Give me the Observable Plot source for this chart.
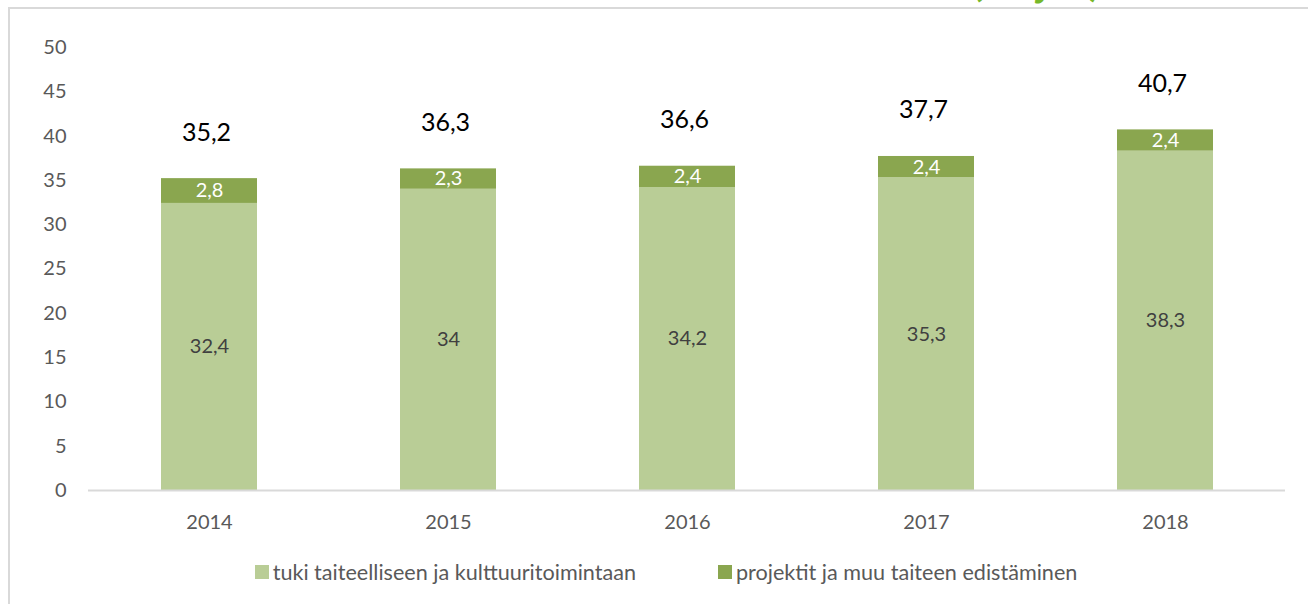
<!DOCTYPE html>
<html>
<head>
<meta charset="utf-8">
<script src="https://cdn.jsdelivr.net/npm/d3@7"></script>
<script src="https://cdn.jsdelivr.net/npm/@observablehq/plot@0.6"></script>
<style>
  html, body { margin: 0; padding: 0; background: #fff; overflow: hidden; }
  body { width: 1308px; height: 604px; position: relative; font-family: Lato, "Open Sans", sans-serif; }
  #frame { position: absolute; left: 8px; top: 7px; width: 1320px; height: 620px; border: 2px solid #d9d9d9; box-sizing: border-box; }
  #title { position: absolute; left: 972px; top: -43px; font-size: 40px; line-height: 48px; font-weight: bold; color: #76b82a; white-space: nowrap; }
  #chart { position: absolute; left: 0; top: 0; }
  #legend { position: absolute; left: 0; top: 559px; width: 1332px; display: flex; justify-content: center; gap: 82px; font-size: 21.6px; color: #595959; }
  .item { display: flex; align-items: center; }
  .sw { width: 14px; height: 14px; margin-right: 4px; display: inline-block; }
</style>
</head>
<body>
<div id="frame"></div>
<div id="title">(milj. €)</div>
<div id="chart"></div>
<div id="legend"></div>
<script>
const years = ["2014", "2015", "2016", "2017", "2018"];
const seriesNames = ["tuki taiteelliseen ja kulttuuritoimintaan", "projektit ja muu taiteen edistäminen"];
const tuki = [32.4, 34, 34.2, 35.3, 38.3];
const projektit = [2.8, 2.3, 2.4, 2.4, 2.4];
const totals = [35.2, 36.3, 36.6, 37.7, 40.7];
const yTicks = [0, 5, 10, 15, 20, 25, 30, 35, 40, 45, 50];
const colors = ["#b9cd96", "#8aa64f"];

const fmt = v => String(v).replace(".", ",");

const data = [];
years.forEach((y, i) => {
  data.push({year: y, series: seriesNames[0], value: tuki[i]});
  data.push({year: y, series: seriesNames[1], value: projektit[i]});
});
const totalData = years.map((y, i) => ({year: y, total: totals[i]}));

const plot = Plot.plot({
  width: 1308,
  height: 540,
  marginLeft: 88,
  marginRight: 23,
  marginTop: 47,
  marginBottom: 50,
  style: {fontFamily: "Lato, 'Open Sans', sans-serif", background: "transparent", overflow: "visible"},
  x: {domain: years, paddingInner: 0.6, paddingOuter: 0.3, label: null},
  y: {domain: [0, 50], label: null},
  color: {domain: seriesNames, range: colors},
  marks: [
    Plot.barY(data, {x: "year", y: "value", fill: "series", order: seriesNames}),
    Plot.ruleY([0], {stroke: "#d9d9d9", strokeWidth: 2}),
    Plot.axisY({ticks: yTicks, tickSize: 0, tickPadding: 22, fontSize: 20, fill: "#595959", label: null}),
    Plot.axisX({tickSize: 0, tickPadding: 24, fontSize: 20, fill: "#595959", label: null}),
    Plot.text(data.filter(d => d.series === seriesNames[0]), Plot.stackY({
      x: "year", y: "value", z: "series", order: seriesNames,
      text: d => fmt(d.value), fontSize: 20, fill: "#404040"
    })),
    Plot.text(data, Plot.stackY({
      x: "year", y: "value", z: "series", order: seriesNames,
      text: d => d.series === seriesNames[1] ? fmt(d.value) : "",
      fontSize: 20, fill: "white"
    })),
    Plot.text(totalData, {x: "year", y: "total", text: d => fmt(d.total), dy: -46, dx: -3, fontSize: 25, fill: "#000"})
  ]
});
document.getElementById("chart").appendChild(plot);

const legend = document.getElementById("legend");
seriesNames.forEach((name, i) => {
  const it = document.createElement("div");
  it.className = "item";
  const sw = document.createElement("span");
  sw.className = "sw";
  sw.style.background = colors[i];
  it.appendChild(sw);
  it.appendChild(document.createTextNode(name));
  legend.appendChild(it);
});
</script>
</body>
</html>
